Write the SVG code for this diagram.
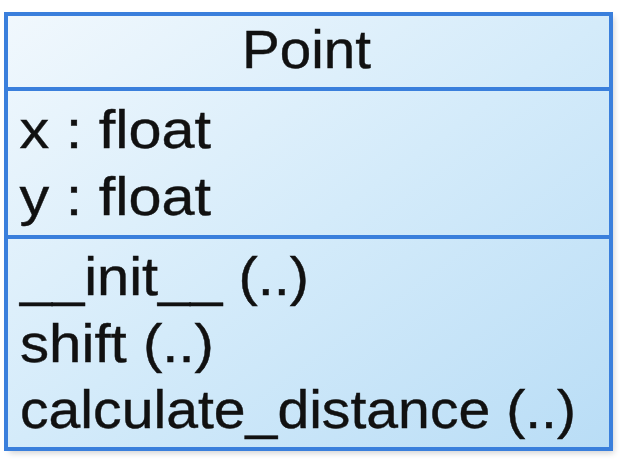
<svg xmlns="http://www.w3.org/2000/svg" width="627" height="467" viewBox="0 0 627 467">
  <defs>
    <linearGradient id="fillGrad" x1="0" y1="0" x2="1" y2="1">
      <stop offset="0" stop-color="#f1f8fd"/>
      <stop offset="0.5" stop-color="#d4ebfa"/>
      <stop offset="1" stop-color="#b9ddf6"/>
    </linearGradient>
    <filter id="shadow" x="-5%" y="-5%" width="110%" height="110%">
      <feGaussianBlur stdDeviation="3"/>
    </filter>
    <style>
      .border { fill: none; stroke: #3a7fdc; stroke-width: 4; }
      .divider { stroke: #3a7fdc; stroke-width: 4; }
      .label { font-family: "Liberation Sans", Arial, sans-serif; font-size: 53px; fill: #111111; stroke: #111111; stroke-width: 0.4; }
    </style>
  </defs>
  <rect width="627" height="467" fill="#ffffff"/>
  <g id="point-class">
    <rect x="9" y="17" width="605" height="436" fill="#000000" opacity="0.18" filter="url(#shadow)"/>
    <rect x="6" y="14" width="605" height="435" fill="url(#fillGrad)"/>
    <rect class="border" x="6" y="14" width="605" height="435"/>
    <line class="divider" x1="6" y1="89" x2="611" y2="89"/>
    <line class="divider" x1="6" y1="237" x2="611" y2="237"/>
    <text class="label" x="242" y="68" textLength="129" lengthAdjust="spacingAndGlyphs">Point</text>
    <text class="label" x="19.5" y="148" textLength="191.5" lengthAdjust="spacingAndGlyphs">x : float</text>
    <text class="label" x="19.5" y="215" textLength="191.5" lengthAdjust="spacingAndGlyphs">y : float</text>
    <text class="label" x="20" y="295" textLength="289" lengthAdjust="spacingAndGlyphs">__init__ (..)</text>
    <text class="label" x="20" y="362" textLength="194" lengthAdjust="spacingAndGlyphs">shift (..)</text>
    <text class="label" x="20" y="428" textLength="556" lengthAdjust="spacingAndGlyphs">calculate_distance (..)</text>
  </g>
  <g id="connectors"/>
</svg>
